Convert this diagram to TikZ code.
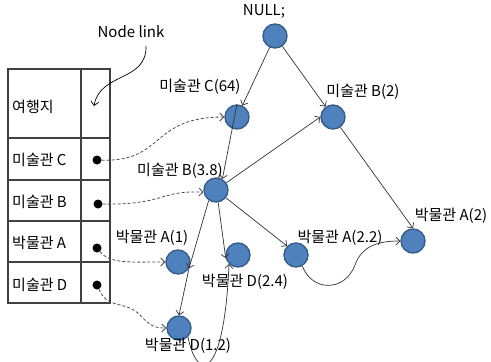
\documentclass[tikz,border=0pt]{standalone}
\usepackage{fontspec}
\setmainfont{Noto Sans CJK KR}
\usetikzlibrary{arrows.meta}
\definecolor{nodefill}{HTML}{4F81BD}
\definecolor{nodeedge}{HTML}{385D8A}
\tikzset{
  vnode/.style={circle,fill=nodefill,draw=nodeedge,line width=1.4pt,minimum size=24pt,inner sep=0pt},
  lbl/.style={inner sep=0pt,font=\fontsize{15}{17}\selectfont},
  tlbl/.style={inner sep=0pt,anchor=west,font=\fontsize{15}{17}\selectfont},
  edge/.style={draw=black!80,line width=0.7pt,-{Straight Barb[length=4pt,width=8pt]}},
  dlink/.style={draw=black!70,line width=0.8pt,densely dashed,-{Straight Barb[length=4pt,width=8pt]}},
  dot/.style={circle,fill=black,inner sep=0pt,minimum size=9pt},
  grid/.style={draw=black!75,line width=1.1pt}
}
\begin{document}
\begin{tikzpicture}[x=1pt,y=-1pt]
\useasboundingbox (0,0) rectangle (491,362);
% table
\draw[grid] (8,69) rectangle (110,303);
\draw[grid] (81,69) -- (81,303);
\draw[grid] (8,138) -- (110,138);
\draw[grid] (8,180) -- (110,180);
\draw[grid] (8,221) -- (110,221);
\draw[grid] (8,262) -- (110,262);
\node[tlbl] (th) at (12,107) {여행지};
\node[tlbl] (tc) at (12,160) {미술관 C};
\node[tlbl] (tb) at (12,202) {미술관 B};
\node[tlbl] (ta) at (12,243) {박물관 A};
\node[tlbl] (td) at (12,285) {미술관 D};
\node[dot] (dotC) at (97,160) {};
\node[dot] (dotB) at (98,204) {};
\node[dot] (dotA) at (97,248) {};
\node[dot] (dotD) at (97,285) {};
% node link
\node[lbl] (nl) at (131,32) {Node link};
\coordinate (nltip) at (94,106);
\draw[edge,draw=black] (146,46) .. controls (147,82) and (100,72) .. (nltip);
% graph nodes
\node[vnode] (NULL) at (275,36) {};
\node[vnode] (C64) at (237,117) {};
\node[vnode] (B2) at (333,117) {};
\node[vnode] (B38) at (216,190) {};
\node[vnode] (A1) at (178,262) {};
\node[vnode] (D24) at (238,255) {};
\node[vnode] (D12) at (179,328) {};
\node[vnode] (A22) at (296,255) {};
\node[vnode] (A2) at (413,241) {};
% labels
\node[lbl] (lNULL) at (264,11) {NULL;};
\node[lbl] (lC64) at (200,87) {미술관 C(64)};
\node[lbl] (lB2) at (363,92) {미술관 B(2)};
\node[lbl] (lB38) at (180,171) {미술관 B(3.8)};
\node[lbl] (lA1) at (152,238) {박물관 A(1)};
\node[lbl] (lD24) at (245,282) {박물관 D(2.4)};
\node[lbl] (lD12) at (188,346) {박물관 D(1.2)};
\node[lbl] (lA22) at (340,238) {박물관 A(2.2)};
\node[lbl] (lA2) at (451,216) {박물관 A(2)};
% edges
\draw[edge] (NULL) -- (C64);
\draw[edge] (NULL) -- (B2);
\draw[edge] (C64.north) -- (B38.60);
\draw[edge] (B38) -- (B2.west);
\draw[edge] (B2) -- (A2.north);
\draw[edge] (B38) -- (A22.135);
\draw[edge] (B38.280) -- (D24.195);
\draw[edge] (B38.235) -- (A1.-30);
\draw[edge] (A1.-30) -- (D12.north);
\draw[edge] (D12.-45) .. controls (197,382) and (224,382) .. (D24.-135);
\draw[edge] (A22.-60) .. controls (312,292) and (345,292) .. (355,265) .. controls (362,245) and (380,241) .. (A2.west);
% dashed links
\draw[dlink] (dotC) .. controls (165,162) and (150,117) .. (C64.west);
\draw[dlink] (dotB) .. controls (165,205) and (160,190) .. (B38.190);
\draw[dlink] (dotA) .. controls (110,264) and (130,262) .. (A1.west);
\draw[dlink] (dotD) .. controls (108,310) and (125,300) .. (140,315) .. controls (150,326) and (155,328) .. (D12.west);
\end{tikzpicture}
\end{document}
